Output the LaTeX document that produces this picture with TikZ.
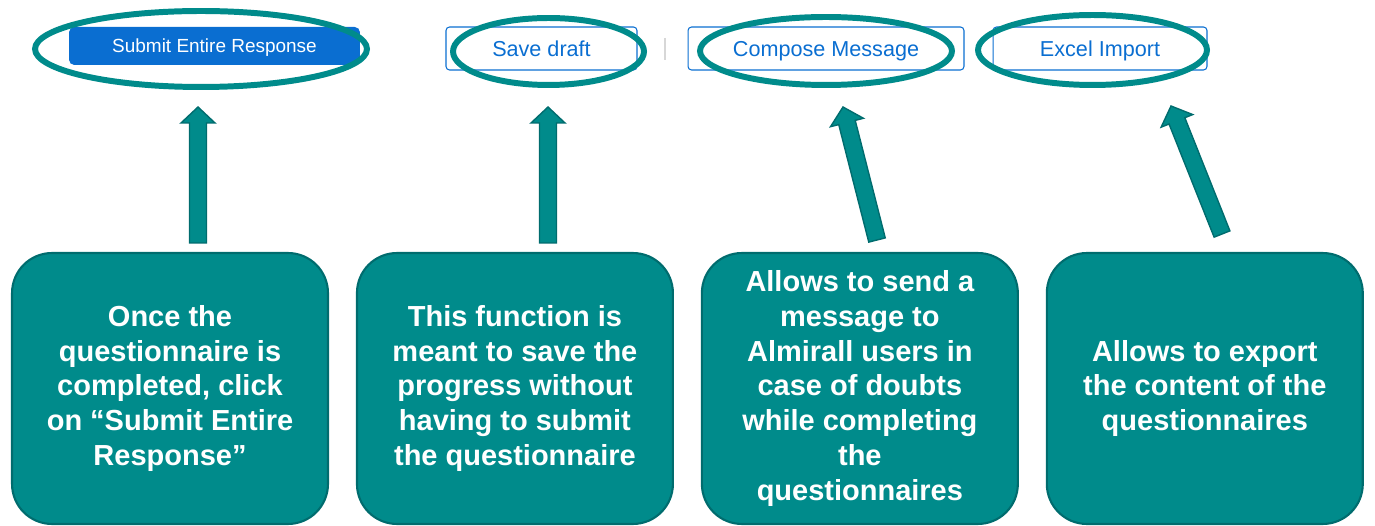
\documentclass[tikz,border=0pt]{standalone}
\usepackage{fontspec}
\setmainfont{Liberation Sans}
\usetikzlibrary{shapes.geometric,calc,positioning}

\definecolor{callteal}{RGB}{0,139,139}
\definecolor{tealdark}{RGB}{0,108,110}
\definecolor{sapblue}{RGB}{10,110,209}
\definecolor{sepgray}{RGB}{215,215,215}

% block arrow from #1 (tail) to #2 (tip)
\newcommand\blockarrow[2]{%
	\coordinate (#1h) at ($(#2)!0.32cm!(#1)$);
	\draw[arrowbody]
	($(#1)!0.17cm!90:(#2)$) -- ($(#1h)!0.17cm!90:(#2)$) -- ($(#1h)!0.34cm!90:(#2)$)
	-- (#2) -- ($(#1h)!0.34cm!-90:(#2)$) -- ($(#1h)!0.17cm!-90:(#2)$)
	-- ($(#1)!0.17cm!-90:(#2)$) -- cycle;}

\begin{document}
\begin{tikzpicture}[
	x = 0.02cm, y = -0.02cm,
	node distance = 6.9cm,
	on grid,
	every node/.style = {inner sep=0pt},
	infobox/.style = {draw=tealdark, line width=1.2pt, fill=callteal,
		rounded corners=0.8cm, minimum width=6.32cm, minimum height=5.42cm,
		text=white, align=center,
		font=\fontsize{16.5}{19.9}\selectfont\bfseries},
	ring/.style = {ellipse, draw=callteal, line width=3.4pt},
	btn/.style = {draw=sapblue, line width=0.6pt, rounded corners=2pt,
		text=sapblue, minimum height=0.86cm, text depth=0pt,
		font=\fontsize{12.3}{14}\selectfont},
	arrowbody/.style = {fill=callteal, draw=tealdark, line width=0.8pt, line join=miter}
	]
	\useasboundingbox (0,0) rectangle (1375,526);

	% buttons
	\node[fill=sapblue, rounded corners=3pt, minimum width=5.82cm, minimum height=0.76cm,
		text=white, text depth=0pt, font=\fontsize{10.8}{12}\selectfont] (submit) at (214.5,46) {Submit Entire Response};
	\node[btn, minimum width=3.82cm] (save) at (541.5,48.5) {Save draft};
	\node[btn, minimum width=5.52cm] (compose) at (826,48.5) {Compose Message};
	\node[btn, minimum width=4.28cm] (excel) at (1100,48.5) {Excel Import};
	\draw[sepgray, line width=0.8pt] (665,38) -- (665,60);

	% rings
	\node[ring, minimum width=6.64cm, minimum height=1.52cm] (r1) at (201,49) {};
	\node[ring, minimum width=3.82cm, minimum height=1.34cm] (r2) at (548.5,51.5) {};
	\node[ring, minimum width=5.04cm, minimum height=1.36cm] (r3) at (826,51) {};
	\node[ring, minimum width=4.58cm, minimum height=1.40cm] (r4) at (1092.5,50) {};

	% boxes
	\node[infobox] (once) at (170,388.5)
		{Once the\\questionnaire is\\completed, click\\on “Submit Entire\\Response”};
	\node[infobox] (draft) [right=of once]
		{This function is\\meant to save the\\progress without\\having to submit\\the questionnaire};
	\node[infobox] (send) [right=of draft]
		{Allows to send a\\message to\\Almirall users in\\case of doubts\\while completing\\the\\questionnaires};
	\node[infobox] (export) [right=of send]
		{Allows to export\\the content of the\\questionnaires};

	% arrows
	\coordinate (t1) at (198,243);  \coordinate (p1) at (198,107);
	\coordinate (t2) at (548,243);  \coordinate (p2) at (548,107);
	\coordinate (t3) at (877,240);  \coordinate (p3) at (843,107);
	\coordinate (t4) at (1222,234); \coordinate (p4) at (1171,106);
	\blockarrow{t1}{p1}
	\blockarrow{t2}{p2}
	\blockarrow{t3}{p3}
	\blockarrow{t4}{p4}
\end{tikzpicture}
\end{document}
